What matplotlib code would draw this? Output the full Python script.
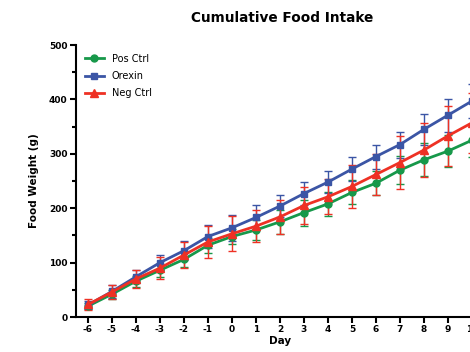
"""Cumulative food intake per group
"""
import matplotlib
matplotlib.use('Agg')
import matplotlib.pyplot as plt
from matplotlib.lines import Line2D
from matplotlib.ticker import MultipleLocator

plt.rcParams['axes.unicode_minus'] = False

days = list(range(-6, 11))

pos_ctrl = [20, 42, 66, 86, 106, 132, 148, 160, 175, 192, 208, 229, 246, 270, 289, 305, 325]
pos_err = [6, 8, 10, 12, 14, 14, 14, 18, 22, 24, 22, 22, 22, 26, 30, 30, 30]

orexin = [22, 47, 74, 100, 122, 148, 164, 183, 204, 227, 248, 272, 295, 317, 345, 371, 397]
orexin_err = [8, 12, 12, 14, 18, 22, 24, 22, 20, 22, 20, 22, 22, 24, 28, 30, 32]

neg_ctrl = [23, 46, 70, 90, 114, 138, 153, 167, 184, 205, 221, 240, 262, 284, 307, 333, 357]
neg_err = [10, 13, 16, 20, 24, 30, 32, 30, 32, 34, 32, 40, 38, 48, 50, 55, 55]

green = '#17984a'
blue = '#3b55a5'
red = '#ee3124'

fig = plt.figure(figsize=(4.7, 3.52), dpi=100)
ax = fig.add_axes([0.1617, 0.0994, 0.868, 0.7727])

series = [
    (pos_ctrl, pos_err, green, 'o', 5, 'Pos Ctrl'),
    (orexin, orexin_err, blue, 's', 5, 'Orexin'),
    (neg_ctrl, neg_err, red, '^', 6, 'Neg Ctrl'),
]
handles = []
for vals, err, c, m, ms, name in series:
    ax.errorbar(days, vals, yerr=err, color=c, marker=m, ms=ms, lw=2,
                capsize=3, elinewidth=1, capthick=1)
    handles.append(Line2D([], [], color=c, marker=m, ms=ms, lw=2, label=name))

ax.set_xlim(-6.5, 10.5)
ax.set_ylim(0, 500)
ax.set_xticks(days)
ax.yaxis.set_major_locator(MultipleLocator(100))
ax.yaxis.set_minor_locator(MultipleLocator(50))

for s in ['top', 'right']:
    ax.spines[s].set_visible(False)
for s in ['left', 'bottom']:
    ax.spines[s].set_linewidth(1.5)
ax.tick_params(which='both', direction='out', width=1.5, labelsize=6.5, pad=2)
ax.tick_params(which='major', length=4)
ax.tick_params(which='minor', length=3)
for lbl in ax.get_xticklabels() + ax.get_yticklabels():
    lbl.set_fontweight('bold')

ax.set_xlabel('Day', fontsize=7.5, fontweight='bold', labelpad=1)
ax.set_ylabel('Food Weight (g)', fontsize=7.5, fontweight='bold', labelpad=7)
fig.text(0.6, 0.95, 'Cumulative Food Intake', ha='center', va='center',
         fontsize=9.8, fontweight='bold')

ax.legend(handles=handles, loc='upper left', frameon=False, fontsize=7,
          handlelength=2, labelspacing=0.75, bbox_to_anchor=(0.0, 1.0))

fig.savefig('out.png', dpi=100)
